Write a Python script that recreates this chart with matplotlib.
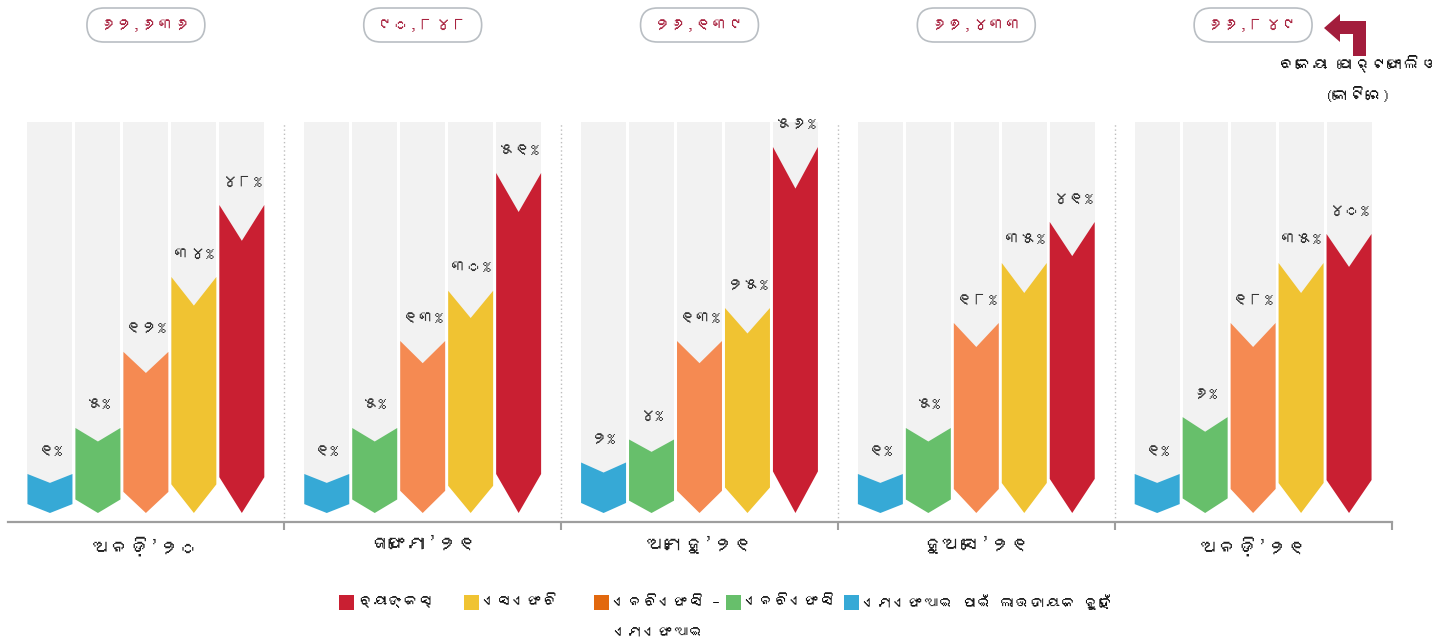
import numpy as np
import matplotlib
matplotlib.use("Agg")
import matplotlib.pyplot as plt
from matplotlib import font_manager
from matplotlib.ft2font import FT2Font
from matplotlib.patches import Polygon, FancyBboxPatch, Rectangle
from matplotlib.transforms import blended_transform_factory

# ---------------- data ----------------
periods = ["ଅନଡ଼ି’୨୦", "ଜାଫେମା’୨୧", "ଅମେଜୁ’୨୧", "ଜୁଅସେ’୨୧", "ଅନଡ଼ି’୨୧"]
portfolio = ["୬୨,୬୩୬", "୯୦,୮୪୮", "୨୬,୧୩୯", "୬୭,୪୩୩", "୬୬,୮୪୯"]

mfi_not_profitable = [1, 1, 2, 1, 1]
nbfc = [5, 5, 4, 5, 6]
nbfc_mfi = [12, 13, 13, 18, 18]
sfb = [34, 30, 25, 35, 35]
banks = [48, 51, 56, 41, 40]

legend_labels = ["ବ୍ୟାଙ୍କସ୍", "ଏସଏଫବି", "ଏନବିଏଫସି –\nଏମଏଫଆଇ", "ଏନବିଏଫସି",
                 "ଏମଏଫଆଇ ପାଇଁ ଲାଭଦାୟକ ନୁହେଁ"]
note_lines = ["ବକେୟା ପୋର୍ଟଫୋଲିଓ", "(କୋଟିରେ)"]

series = [mfi_not_profitable, nbfc, nbfc_mfi, sfb, banks]
bar_colors = ["#36a9d6", "#67bf6b", "#f58a52", "#f0c332", "#c91f32"]
legend_colors = ["#c91f32", "#f0c332", "#e2680e", "#67bf6b", "#36a9d6"]

# ---------------- fonts ----------------
def find_font(ch):
    for f in font_manager.fontManager.ttflist:
        try:
            if ord(ch) in FT2Font(f.fname).get_charmap():
                return f.name
        except Exception:
            pass
    return None

odia = find_font("ଅ")
fams = ([odia] if odia else []) + ["DejaVu Sans"]
plt.rcParams["font.family"] = fams

ODIA_DIGITS = str.maketrans("0123456789", "୦୧୨୩୪୫୬୭୮୯")

def odia_num(v):
    return str(v).translate(ODIA_DIGITS)

# ---------------- figure ----------------
W, H = 1445, 643
fig = plt.figure(figsize=(W / 100, H / 100), dpi=100)
fig.patch.set_facecolor("white")

ax_left, ax_right = 7.5 / W, 1391.5 / W
ax_bot, ax_top = (H - 522) / H, (H - 122) / H
ax = fig.add_axes([ax_left, ax_bot, ax_right - ax_left, ax_top - ax_bot])

# infographic (non-linear) value scale, piecewise linear
anch_v = np.array([-100.0, 0, 1, 5, 13, 18, 25, 34, 35, 40, 41, 48, 51, 56, 200])
anch_l = np.array([-3900.0, 0, 39, 85, 172, 190, 205, 236, 250, 279, 291,
                   308, 340, 366, 1410])

def fwd(v):
    return np.interp(v, anch_v, anch_l)

def inv(l):
    return np.interp(l, anch_l, anch_v)

ax.set_yscale("function", functions=(fwd, inv))
TOP_LEVEL = 391
ax.set_ylim(inv(-9), inv(TOP_LEVEL))
ax.set_xlim(-0.5, len(periods) - 0.5)

n_series = len(series)
bar_w = 45 / 277
step = 48 / 277
x = np.arange(len(periods))

for k, (vals, col) in enumerate(zip(series, bar_colors)):
    for i, v in enumerate(vals):
        c = x[i] + (k - (n_series - 1) / 2) * step
        top = fwd(v)
        d = 0.1 * top + 5
        b0 = inv(d)
        b1 = inv(TOP_LEVEL + 5)
        ax.bar(c, b1 - b0, bottom=b0, width=bar_w, color="#f2f2f2",
               linewidth=0, zorder=1)
        verts = [(c - bar_w / 2, v), (c, inv(top - d)), (c + bar_w / 2, v),
                 (c + bar_w / 2, inv(d)), (c, 0), (c - bar_w / 2, inv(d))]
        ax.add_patch(Polygon(verts, closed=True, facecolor=col,
                             edgecolor="none", zorder=2))
        ax.annotate(odia_num(v) + "%", xy=(c, v), xytext=(0, 23),
                    textcoords="offset pixels", ha="center", va="center",
                    fontsize=12, fontweight="bold", color="#333333", zorder=3)

# separators
for s in x[:-1] + 0.5:
    ax.axvline(s, color="#bdbdbd", lw=1, ls=(0, (1, 2)), zorder=0)

for sp in ["left", "right", "top"]:
    ax.spines[sp].set_visible(False)
ax.spines["bottom"].set_color("#9e9e9e")
ax.spines["bottom"].set_linewidth(1.6)
ax.set_yticks([])
ax.set_xticks(x + 0.5)
ax.set_xticklabels([])
ax.tick_params(axis="x", which="major", length=6, width=1.5, color="#9e9e9e",
               direction="out")
ax.set_xticks(x, minor=True)
ax.set_xticklabels(periods, minor=True, fontsize=14, color="#222222")
ax.tick_params(axis="x", which="minor", length=0, pad=10)

# portfolio boxes on top
bt = blended_transform_factory(ax.transData, fig.transFigure)
box_w = 118 / 277
box_h = 34 / H
for i, lab in enumerate(portfolio):
    y0 = (H - 42) / H
    ax.add_patch(FancyBboxPatch((x[i] - box_w / 2, y0), box_w, box_h,
                                boxstyle="round,pad=0,rounding_size=0.0614",
                                mutation_aspect=0.43, transform=bt,
                                facecolor="white", edgecolor="#b9bec3",
                                lw=1.2, clip_on=False, zorder=4))
    ax.text(x[i], (H - 25) / H, lab, transform=bt, ha="center", va="center",
            fontsize=12, fontweight="bold", color="#a8223f", clip_on=False,
            zorder=5)

# bent arrow
arrow_px = [(1324, 28), (1340, 14), (1340, 21), (1366, 21), (1366, 56),
            (1353, 56), (1353, 34), (1340, 34), (1340, 42)]
fig.patches.append(Polygon([(px / W, 1 - py / H) for px, py in arrow_px],
                           closed=True, transform=fig.transFigure,
                           facecolor="#a31d3c", edgecolor="none"))
fig.text(1358 / W, 1 - 64 / H, note_lines[0], ha="center", va="center",
         fontsize=12, color="#111111")
fig.text(1358 / W, 1 - 95 / H, note_lines[1], ha="center", va="center",
         fontsize=12, color="#111111")

# legend (manual, sequential layout)
renderer = fig.canvas.get_renderer()
sq = 15
ly = 602
gaps_after = [29, 35, 6, 8, 0]
items = []
cur = 0.0
for lab, col, g in zip(legend_labels, legend_colors, gaps_after):
    lines = lab.split("\n")
    texts = []
    for j, line in enumerate(lines):
        t = fig.text(0, 1 - (ly + 31 * j) / H, line, ha="left", va="center",
                     fontsize=11, fontweight="bold", color="#111111")
        texts.append(t)
    wfirst = texts[0].get_window_extent(renderer).width
    items.append((cur, col, texts))
    cur += sq + 4 + wfirst + g
total = cur
start = 727 - total / 2
for off, col, texts in items:
    xs = start + off
    fig.patches.append(Rectangle((xs / W, 1 - (ly + sq / 2) / H), sq / W, sq / H,
                                 transform=fig.transFigure, facecolor=col,
                                 edgecolor="none"))
    for t in texts:
        t.set_x((xs + sq + 4) / W)

fig.savefig("out.png", dpi=100, facecolor="white")
